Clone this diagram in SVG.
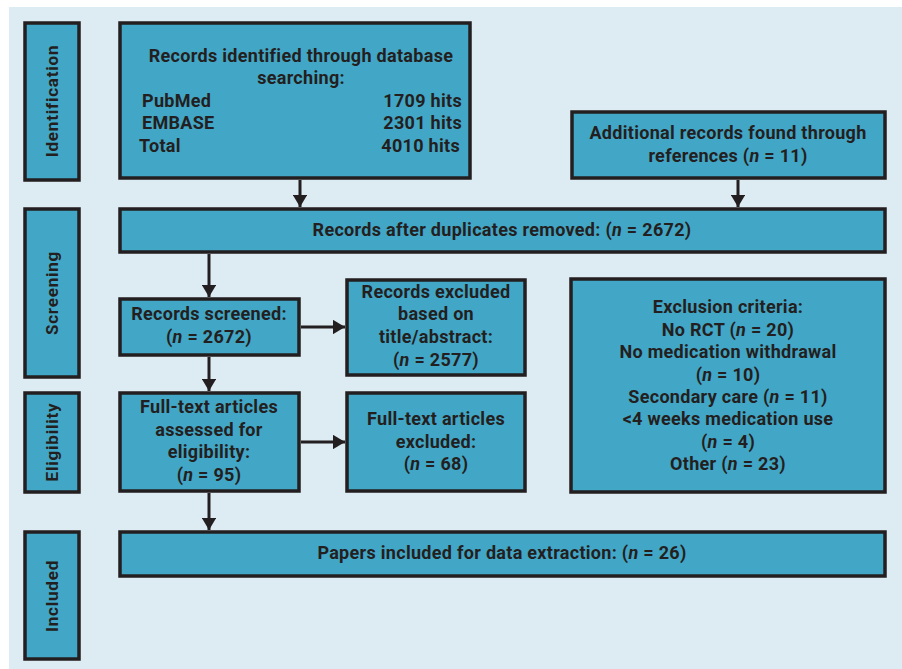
<svg xmlns="http://www.w3.org/2000/svg" width="902" height="669" viewBox="0 0 902 669">
<defs>
<style>
.bg{fill:#ddebf2}
.box{fill:#42a6c6;stroke:#231f20;stroke-width:3.5}
.t{font-family:Roboto,"Liberation Sans",sans-serif;font-weight:bold;font-size:18px;letter-spacing:0.3px;fill:#231f20;text-anchor:middle}
.l{text-anchor:start}
.r{text-anchor:end}
.i{font-style:italic}
.side{font-family:Roboto,"Liberation Sans",sans-serif;font-weight:bold;font-size:17px;fill:#231f20;text-anchor:middle;letter-spacing:0.8px}
.edge{stroke:#231f20;stroke-width:3;fill:none}
</style>
<marker id="ah" viewBox="0 0 10 12" refX="10" refY="6" markerWidth="4" markerHeight="4.8" markerUnits="strokeWidth" orient="auto">
<path d="M0,0 L10,6 L0,12 z" fill="#231f20"/>
</marker>
</defs>
<rect x="0" y="0" width="902" height="669" fill="#ffffff"/>
<rect class="bg" x="9" y="7" width="893" height="662"/>

<g id="side-identification">
<rect class="box" x="25" y="23" width="54" height="157"/>
<text class="side" transform="translate(58,101) rotate(-90)">Identification</text>
</g>
<g id="side-screening">
<rect class="box" x="25" y="209" width="54" height="168"/>
<text class="side" transform="translate(58,293) rotate(-90)">Screening</text>
</g>
<g id="side-eligibility">
<rect class="box" x="25" y="393" width="54" height="99"/>
<text class="side" transform="translate(58,442) rotate(-90)">Eligibility</text>
</g>
<g id="side-included">
<rect class="box" x="25" y="532" width="54" height="127"/>
<text class="side" transform="translate(58,596) rotate(-90)">Included</text>
</g>

<g id="records-identified">
<rect class="box" x="120" y="23" width="350" height="155"/>
<text class="t" x="301" y="62">Records identified through database</text>
<text class="t" x="301" y="84">searching:</text>
<text class="t l" x="142" y="107">PubMed</text>
<text class="t r" x="462" y="107">1709 hits</text>
<text class="t l" x="142" y="129">EMBASE</text>
<text class="t r" x="462" y="129">2301 hits</text>
<text class="t l" x="139" y="152">Total</text>
<text class="t r" x="460" y="152">4010 hits</text>
</g>

<g id="additional-records">
<rect class="box" x="572" y="112" width="313" height="66"/>
<text class="t" x="728" y="139">Additional records found through</text>
<text class="t" x="728" y="162">references (<tspan class="i">n</tspan> = 11)</text>
</g>

<g id="after-duplicates">
<rect class="box" x="120" y="209" width="765" height="43"/>
<text class="t" x="502" y="236">Records after duplicates removed: (<tspan class="i">n</tspan> = 2672)</text>
</g>

<g id="records-screened">
<rect class="box" x="120" y="299" width="179" height="56"/>
<text class="t" x="209" y="320">Records screened:</text>
<text class="t" x="209" y="343">(<tspan class="i">n</tspan> = 2672)</text>
</g>

<g id="records-excluded">
<rect class="box" x="347" y="280" width="178" height="95"/>
<text class="t" x="436" y="298">Records excluded</text>
<text class="t" x="436" y="320">based on</text>
<text class="t" x="436" y="343">title/abstract:</text>
<text class="t" x="436" y="366">(<tspan class="i">n</tspan> = 2577)</text>
</g>

<g id="fulltext-assessed">
<rect class="box" x="120" y="393" width="179" height="98"/>
<text class="t" x="209" y="413">Full-text articles</text>
<text class="t" x="209" y="436">assessed for</text>
<text class="t" x="209" y="458">eligibility:</text>
<text class="t" x="209" y="481">(<tspan class="i">n</tspan> = 95)</text>
</g>

<g id="fulltext-excluded">
<rect class="box" x="347" y="393" width="178" height="98"/>
<text class="t" x="436" y="425">Full-text articles</text>
<text class="t" x="436" y="448">excluded:</text>
<text class="t" x="436" y="470">(<tspan class="i">n</tspan> = 68)</text>
</g>

<g id="exclusion-criteria">
<rect class="box" x="571" y="279" width="314" height="213"/>
<text class="t" x="728" y="313">Exclusion criteria:</text>
<text class="t" x="728" y="336">No RCT (<tspan class="i">n</tspan> = 20)</text>
<text class="t" x="728" y="358">No medication withdrawal</text>
<text class="t" x="728" y="381">(<tspan class="i">n</tspan> = 10)</text>
<text class="t" x="728" y="403">Secondary care (<tspan class="i">n</tspan> = 11)</text>
<text class="t" x="728" y="425">&lt;4 weeks medication use</text>
<text class="t" x="728" y="448">(<tspan class="i">n</tspan> = 4)</text>
<text class="t" x="728" y="470">Other (<tspan class="i">n</tspan> = 23)</text>
</g>

<g id="papers-included">
<rect class="box" x="120" y="532" width="765" height="44"/>
<text class="t" x="502" y="559">Papers included for data extraction: (<tspan class="i">n</tspan> = 26)</text>
</g>

<g id="connectors">
<line class="edge" x1="300" y1="180" x2="300" y2="207" marker-end="url(#ah)"/>
<line class="edge" x1="738" y1="180" x2="738" y2="207" marker-end="url(#ah)"/>
<line class="edge" x1="209" y1="254" x2="209" y2="297" marker-end="url(#ah)"/>
<line class="edge" x1="301" y1="327" x2="345" y2="327" marker-end="url(#ah)"/>
<line class="edge" x1="209" y1="357" x2="209" y2="391" marker-end="url(#ah)"/>
<line class="edge" x1="301" y1="442" x2="345" y2="442" marker-end="url(#ah)"/>
<line class="edge" x1="209" y1="493" x2="209" y2="530" marker-end="url(#ah)"/>
</g>
</svg>
